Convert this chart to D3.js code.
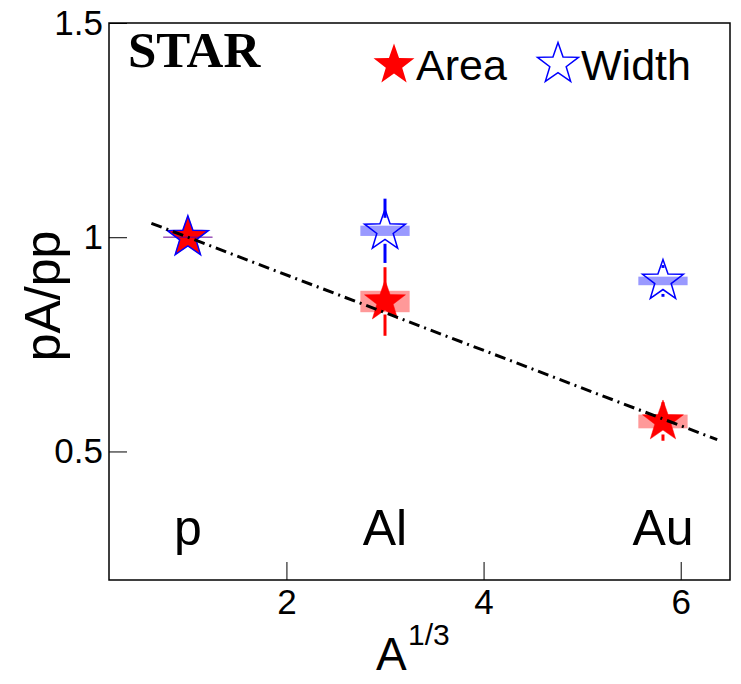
<!DOCTYPE html>
<html>
<head>
<meta charset="utf-8">
<script src="https://cdn.jsdelivr.net/npm/d3@7"></script>
<style>
  html, body { margin: 0; padding: 0; background: #fff; }
  svg { display: block; font-family: "Liberation Sans", Arial, Helvetica, sans-serif; }
</style>
</head>
<body>
<svg id="chart" width="741" height="684"></svg>
<script>
// Nuclei and their A^(1/3) positions
const nuclei = ["p", "Al", "Au"];
const nucleusX = [1.0, 3.0, 5.82];

// pA/pp ratio from the peak area: value, statistical error, systematic error
const areaValues = [1.0, 0.85, 0.57];
const areaStat   = [0.0, 0.08, 0.045];
const areaSys    = [0.0, 0.025, 0.016];

// pA/pp ratio from the peak width
const widthValues = [1.0, 1.015, 0.898];
const widthStat   = [0.0, 0.075, 0.037];
const widthSys    = [0.0, 0.012, 0.01];

// Linear trend: ratio = fitIntercept + fitSlope * A^(1/3)
const fitIntercept = 1.088;
const fitSlope = -0.088;
const fitRange = [0.63, 6.37];

// Axis ticks
const xMajorTicks = [2, 4, 6];
const xMinorTicks = [0.5, 1, 1.5, 2.5, 3, 3.5, 4.5, 5, 5.5];
const yMajorTicks = [0.5, 1, 1.5];
const yTickLabels = ["0.5", "1", "1.5"];
const yMinorTicks = [0.25, 0.75, 1.25];

const svg = d3.select("#chart");
const W = 741, H = 684;
const frame = { left: 109, right: 730, top: 23, bottom: 580 };
const sans = "'Liberation Sans', Arial, Helvetica, sans-serif";
const serif = "'Liberation Serif', 'Times New Roman', serif";

svg.append("rect").attr("width", W).attr("height", H).attr("fill", "#fff");

const x = d3.scaleLinear().domain([0.2, 6.5]).range([frame.left, frame.right]);
const y = d3.scaleLinear().domain([0.2, 1.5]).range([frame.bottom, frame.top]);

// --- axes ---
const gx = svg.append("g").attr("transform", `translate(0,${frame.bottom})`);
gx.call(d3.axisBottom(x).tickValues(xMinorTicks).tickSize(-9).tickSizeOuter(0).tickFormat(""));
gx.call(d3.axisBottom(x).tickValues(xMajorTicks).tickSize(-18).tickSizeOuter(0).tickPadding(9)
  .tickFormat(d3.format("d")));
gx.selectAll(".domain").remove();
gx.selectAll("text").attr("fill", "#000").style("font-size", "35px").style("font-family", sans);
gx.selectAll("line").attr("stroke", "#000");

const gy = svg.append("g").attr("transform", `translate(${frame.left},0)`);
gy.call(d3.axisLeft(y).tickValues(yMinorTicks).tickSize(-9).tickSizeOuter(0).tickFormat(""));
gy.call(d3.axisLeft(y).tickValues(yMajorTicks).tickSize(-18).tickSizeOuter(0).tickPadding(6)
  .tickFormat((d, i) => yTickLabels[i]));
gy.selectAll(".domain").remove();
gy.selectAll("text").attr("fill", "#000").style("font-size", "35px").style("font-family", sans);
gy.selectAll("line").attr("stroke", "#000");

// frame
svg.append("rect")
  .attr("x", frame.left).attr("y", frame.top)
  .attr("width", frame.right - frame.left).attr("height", frame.bottom - frame.top)
  .attr("fill", "none").attr("stroke", "#000").attr("stroke-width", 1.5);

// --- star marker path ---
function starPath(cx, cy, R, ratio) {
  const r = R * ratio;
  const pts = [];
  for (let k = 0; k < 10; k++) {
    const a = -Math.PI / 2 + k * Math.PI / 5;
    const rad = (k % 2 === 0) ? R : r;
    pts.push([cx + rad * Math.cos(a), cy + rad * Math.sin(a)]);
  }
  return "M" + pts.map(p => p[0].toFixed(2) + "," + p[1].toFixed(2)).join("L") + "Z";
}

const R = 21.5;
const boxHalf = 0.25; // half-width of the systematic boxes in A^(1/3)

function series(values, stat, sys, color, boxColor, filled) {
  const g = svg.append("g");
  // systematic boxes
  values.forEach((v, i) => {
    const x0 = x(nucleusX[i] - boxHalf), x1 = x(nucleusX[i] + boxHalf);
    if (sys[i] > 0) {
      g.append("rect")
        .attr("x", x0).attr("y", y(v + sys[i]))
        .attr("width", x1 - x0).attr("height", y(v - sys[i]) - y(v + sys[i]))
        .attr("fill", boxColor);
    } else {
      g.append("line")
        .attr("x1", x0).attr("x2", x1).attr("y1", y(v)).attr("y2", y(v))
        .attr("stroke", boxColor).attr("stroke-width", 1.5);
    }
  });
  // statistical error bars, with a gap around the marker
  const gap = 13;
  values.forEach((v, i) => {
    if (stat[i] <= 0) return;
    const cx = x(nucleusX[i]), cy = y(v);
    const top = y(v + stat[i]), bot = y(v - stat[i]);
    if (cy - gap > top) g.append("line").attr("x1", cx).attr("x2", cx)
      .attr("y1", top).attr("y2", cy - gap).attr("stroke", color).attr("stroke-width", 3);
    if (cy + gap < bot) g.append("line").attr("x1", cx).attr("x2", cx)
      .attr("y1", cy + gap).attr("y2", bot).attr("stroke", color).attr("stroke-width", 3);
  });
  // markers
  values.forEach((v, i) => {
    g.append("path")
      .attr("d", starPath(x(nucleusX[i]), y(v), R, 0.4))
      .attr("fill", filled ? color : "none")
      .attr("stroke", color)
      .attr("stroke-width", filled ? 0.5 : 1.5)
      .attr("stroke-linejoin", "miter");
  });
}

series(areaValues, areaStat, areaSys, "#ff0000", "rgba(255,0,0,0.4)", true);
series(widthValues, widthStat, widthSys, "#0000ff", "rgba(0,0,255,0.4)", false);

// trend line
const fitLine = d3.line().x(d => x(d)).y(d => y(fitIntercept + fitSlope * d));
svg.append("path")
  .attr("d", fitLine(fitRange))
  .attr("fill", "none").attr("stroke", "#000").attr("stroke-width", 3)
  .attr("stroke-dasharray", "11,5,2,5");

// nucleus labels
svg.append("g").selectAll("text").data(nuclei).join("text")
  .attr("x", (d, i) => x(nucleusX[i])).attr("y", 545)
  .attr("text-anchor", "middle").attr("fill", "#000")
  .style("font-size", "50px").style("font-family", sans)
  .text(d => d);

// STAR label
svg.append("text").attr("x", 128).attr("y", 67).attr("fill", "#000")
  .style("font-family", serif).style("font-weight", "bold").style("font-size", "51px")
  .text("STAR");

// legend
const legend = svg.append("g");
legend.append("path").attr("d", starPath(394, 65, R, 0.4)).attr("fill", "#ff0000");
legend.append("text").attr("x", 416).attr("y", 80)
  .style("font-size", "43px").style("font-family", sans).text("Area");
legend.append("path").attr("d", starPath(558, 64, R, 0.4))
  .attr("fill", "none").attr("stroke", "#0000ff").attr("stroke-width", 1.5);
legend.append("text").attr("x", 581).attr("y", 80)
  .style("font-size", "43px").style("font-family", sans).text("Width");

// axis titles
svg.append("text")
  .attr("transform", "translate(60,296) rotate(-90)")
  .attr("text-anchor", "middle").attr("fill", "#000")
  .style("font-size", "50px").style("font-family", sans)
  .text("pA/pp");

const xt = svg.append("text").attr("fill", "#000").style("font-family", sans);
xt.append("tspan").attr("x", 376).attr("y", 670).style("font-size", "46px").text("A");
xt.append("tspan").attr("x", 408).attr("y", 645).style("font-size", "30px").text("1/3");
</script>
</body>
</html>
